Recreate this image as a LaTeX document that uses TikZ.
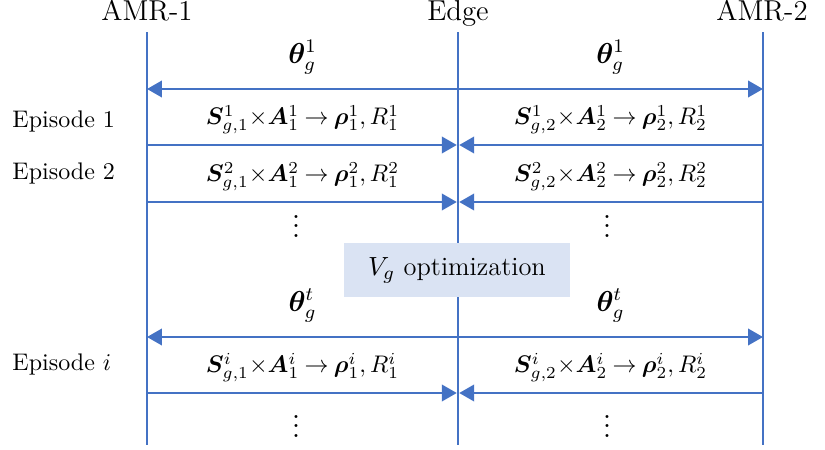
\documentclass[tikz,border=0pt]{standalone}
\usepackage{amsmath,bm}
\usetikzlibrary{arrows.meta,positioning}
\definecolor{seqBlue}{HTML}{4472C4}
\definecolor{seqPale}{HTML}{DAE3F3}
\tikzset{
  seq life/.style={draw=seqBlue, line width=1.05pt},
  seq msg/.style={draw=seqBlue, line width=1.05pt, -{Triangle[length=6.2pt,width=6.8pt]}, shorten >=0.5pt},
  seq bcast/.style={draw=seqBlue, line width=1.05pt, {Triangle[length=6.2pt,width=6.8pt]}-{Triangle[length=6.2pt,width=6.8pt]}},
  seq head/.style={font=\fontsize{12}{14}\selectfont, anchor=base},
  seq episode/.style={anchor=west, inner sep=0pt},
  seq label/.style={inner sep=1pt},
  seq theta/.style={inner sep=1pt, font=\fontsize{12}{14}\selectfont},
  seq dots/.style={inner sep=0pt, font=\fontsize{13}{15}\selectfont},
  seq box/.style={fill=seqPale, minimum width=94.5pt, minimum height=22.5pt, font=\fontsize{11}{13}\selectfont},
}
\newcommand{\upmsg}[2]{$\thickmuskip=4mu\bm{S}_{g,#1}^{#2}{\times}\bm{A}_#1^{#2}\rightarrow\bm{\rho}_#1^{#2},R_#1^{#2}$}

\begin{document}
\begin{tikzpicture}[x=0.01465cm, y=-0.01465cm]
  \useasboundingbox (0,0) rectangle (825,450);
  % Lifelines with their headers
  \node[seq head] (amr1) at (147,20) {AMR-1};
  \node[seq head] (edge) at (458,20) {Edge};
  \node[seq head] (amr2) at (762,20) {AMR-2};
  \foreach \n/\x in {amr1/147, edge/458, amr2/763} {
    \coordinate (\n top) at (\x,32);
    \coordinate (\n bot) at (\x,445);
    \draw[seq life] (\n top) -- (\n bot);
  }
  % Message rows on the lifelines
  \foreach \r/\y in {t1/89, e1/145, e2/202, tt/337, ei/393} {
    \coordinate (amr1 \r) at (147,\y);
    \coordinate (edge \r) at (458,\y);
    \coordinate (amr2 \r) at (763,\y);
  }
  % Global model sent to both robots
  \foreach \r/\k in {t1/1, tt/t} {
    \draw[seq bcast] (amr1 \r) -- (amr2 \r);
    \path (amr1 \r) -- node[seq theta, above=5pt] (th\r a) {$\bm{\theta}_g^{\k}$} (edge \r);
    \path (edge \r) -- node[seq theta, above=5pt] (th\r b) {$\bm{\theta}_g^{\k}$} (amr2 \r);
  }
  % Episode uploads to the edge
  \foreach \r/\k in {e1/1, e2/2, ei/i} {
    \draw[seq msg] (amr1 \r) -- node[seq label, above=3pt] (s\r a) {\upmsg{1}{\k}} (edge \r);
    \draw[seq msg] (amr2 \r) -- node[seq label, above=3pt] (s\r b) {\upmsg{2}{\k}} (edge \r);
  }
  \node[seq episode] (ep1) at (12,122) {Episode 1};
  \node[seq episode] (ep2) at (12,174) {Episode 2};
  \node[seq episode] (epi) at (12,365) {Episode $i$};
  % Continuation dots
  \node[seq dots] (dots1a) at (296,219) {$\vdots$};
  \node[seq dots] (dots1b) at (607,219) {$\vdots$};
  \node[seq dots] (dots2a) at (296,419) {$\vdots$};
  \node[seq dots] (dots2b) at (607,419) {$\vdots$};
  % Value network update on the edge
  \node[seq box] (vopt) at (457,270) {$V_g$ optimization};
\end{tikzpicture}
\end{document}
